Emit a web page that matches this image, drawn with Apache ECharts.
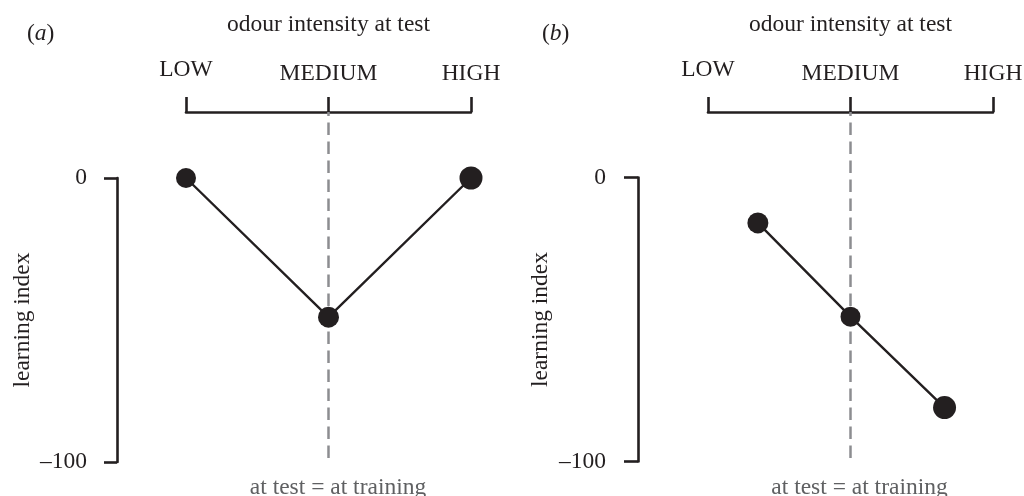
<!DOCTYPE html>
<html>
<head>
<meta charset="utf-8">
<script src="https://cdn.jsdelivr.net/npm/echarts@6/dist/echarts.min.js"></script>
<style>
  html, body { margin: 0; padding: 0; background: #ffffff; }
  #chart { width: 1024px; height: 496px; }
</style>
</head>
<body>
<div id="chart"></div>
<script>
// Odour intensity levels on the test axis (0 = LOW, 1 = MEDIUM, 2 = HIGH)
const levels = ['LOW', 'MEDIUM', 'HIGH'];
// Intensity used during training: the dashed "at test = at training" line
const trainingLevel = 1;
// Learning index scale
const yMin = -100;
const yMax = 0;

// Panel (a): learning index against test intensity
const aIntensity = [0, 1, 2];
const aLearning = [0, -49, 0];

// Panel (b): learning index against test intensity
const bIntensity = [0.35, 1, 1.66];
const bLearning = [-16, -49, -81];

const INK = '#231f20';
const GREY = '#8c8d90';
const NOTE = '#5f6062';
const FONT = "'Liberation Serif', 'Times New Roman', serif";
const FS = 23.5;

// Geometry and marker diameters for each panel
const panels = [
  { tag: 'a', xs: aIntensity, ys: aLearning, sizes: [20, 21, 23],
    left: 186, right: 471, top: 178, bottom: 462,
    yAxisX: 117, tick: 13, labelMargin: 30, nameGap: 82, tagX: 27, noteShift: 19 },
  { tag: 'b', xs: bIntensity, ys: bLearning, sizes: [21, 20, 23],
    left: 708, right: 993, top: 177.5, bottom: 461.5,
    yAxisX: 638, tick: 14, labelMargin: 32, nameGap: 85, tagX: 542, noteShift: 18 }
];

const W = 1024, H = 496;
const bracketY = 112;      // level axis drawn as a bracket above the plot
const guideBottom = 458;   // lower end of the dashed guide

const grid = [], xAxis = [], yAxis = [], series = [], title = [];

panels.forEach((p, i) => {
  const gData = grid.length;
  grid.push({ left: p.left, right: W - p.right, top: p.top, bottom: H - p.bottom,
              containLabel: false, outerBoundsMode: 'none' });
  const gGuide = grid.length;
  grid.push({ left: p.left, right: W - p.right, top: bracketY, bottom: H - guideBottom,
              containLabel: false, outerBoundsMode: 'none' });

  // test-intensity bracket on top
  const xTop = xAxis.length;
  xAxis.push({
    gridIndex: gData, type: 'value', position: 'top', offset: p.top - bracketY,
    min: 0, max: levels.length - 1, interval: 1,
    axisLine: { show: true, onZero: false, lineStyle: { color: INK, width: 2.6 } },
    axisTick: { show: true, inside: false, length: 15, lineStyle: { color: INK, width: 2.6 } },
    splitLine: { show: false },
    axisLabel: {
      margin: 26.5, color: INK, fontFamily: FONT, fontSize: FS,
      formatter: v => {
        const k = Math.round(v);
        return k === 0 ? '{raised|' + levels[k] + '}' : levels[k];
      },
      rich: { raised: { fontFamily: FONT, fontSize: FS, color: INK, padding: [0, 0, 4, 0] } }
    },
    name: 'odour intensity at test', nameLocation: 'middle', nameGap: 75,
    nameTextStyle: { color: INK, fontFamily: FONT, fontSize: FS }
  });

  // bottom note under the guide line
  xAxis.push({
    gridIndex: gData, type: 'value', position: 'bottom',
    min: 0, max: levels.length - 1,
    axisLine: { show: false, onZero: false }, axisTick: { show: false }, axisLabel: { show: false },
    splitLine: { show: false },
    name: 'at test = at training', nameLocation: 'middle', nameGap: 14,
    nameTextStyle: { color: NOTE, fontFamily: FONT, fontSize: FS, padding: [0, 0, 0, p.noteShift] }
  });

  const xGuide = xAxis.length;
  xAxis.push({
    gridIndex: gGuide, type: 'value', min: 0, max: levels.length - 1, show: false
  });

  const yMain = yAxis.length;
  yAxis.push({
    gridIndex: gData, type: 'value', min: yMin, max: yMax, interval: yMax - yMin,
    position: 'left', offset: p.left - p.yAxisX,
    axisLine: { show: true, onZero: false, lineStyle: { color: INK, width: 2.6 } },
    axisTick: { show: true, inside: false, length: p.tick, lineStyle: { color: INK, width: 2.6 } },
    splitLine: { show: false },
    axisLabel: {
      margin: p.labelMargin, color: INK, fontFamily: FONT, fontSize: FS,
      formatter: v => (v < 0 ? '\u2013' + Math.abs(v) : String(v))
    },
    name: 'learning index', nameLocation: 'middle', nameRotate: 90, nameGap: p.nameGap,
    nameTextStyle: { color: INK, fontFamily: FONT, fontSize: FS }
  });

  const yGuide = yAxis.length;
  yAxis.push({ gridIndex: gGuide, type: 'value', min: 0, max: 1, show: false });

  series.push({
    type: 'line', xAxisIndex: xGuide, yAxisIndex: yGuide,
    data: [[trainingLevel, 0], [trainingLevel, 1]],
    symbol: 'none', silent: true, z: 1,
    lineStyle: { color: GREY, width: 2.5, type: [12.5, 6.5] }
  });

  series.push({
    type: 'line', xAxisIndex: xTop, yAxisIndex: yMain, z: 3,
    data: p.xs.map((x, j) => ({ value: [x, p.ys[j]], symbolSize: p.sizes[j] })),
    symbol: 'circle',
    itemStyle: { color: INK, borderWidth: 0 },
    lineStyle: { color: INK, width: 2.4 }
  });

  title.push({
    text: '({i|' + p.tag + '})', left: p.tagX, top: 22, padding: 0,
    textStyle: {
      color: INK, fontFamily: FONT, fontSize: FS, fontWeight: 'normal',
      rich: { i: { color: INK, fontFamily: FONT, fontSize: FS, fontStyle: 'italic' } }
    }
  });
});

const chart = echarts.init(document.getElementById('chart'), null, { renderer: 'canvas' });
chart.setOption({
  backgroundColor: '#ffffff',
  animation: false,
  title, grid, xAxis, yAxis, series
});
</script>
</body>
</html>
